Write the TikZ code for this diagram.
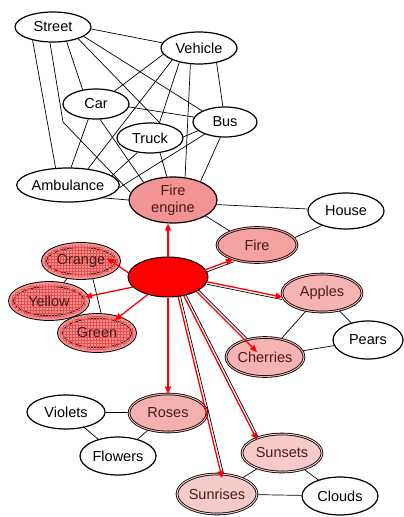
\documentclass[tikz,border=0pt]{standalone}
\usepackage{fontspec}
\setsansfont{Liberation Sans}
\usetikzlibrary{arrows.meta,shapes.geometric,backgrounds,patterns}
\definecolor{SpreadRed}{HTML}{FF0000}
\definecolor{PrimePink}{HTML}{F29090}
\definecolor{PrimeGrid}{HTML}{E85050}
\definecolor{EnginePink}{HTML}{F39494}
\definecolor{FirePink}{HTML}{F4A2A2}
\definecolor{FruitPink}{HTML}{F5B3B3}
\definecolor{RosePink}{HTML}{F5B0B0}
\definecolor{SkyPink}{HTML}{F7CACA}
\definecolor{ActiveText}{HTML}{4A1A1A}

\begin{document}
\begin{tikzpicture}[
  x=1pt, y=-1pt,
  font=\sffamily\fontsize{14.5}{17}\selectfont,
  dims/.style 2 args={minimum width=#1pt, minimum height=#2pt},
  idea/.style={
    ellipse,
    draw,
    line width=1.2pt,
    fill=white,
    inner sep=0pt
  },
  lit/.style={idea, fill=#1, text=ActiveText},
  primed/.style={
    lit=PrimePink,
    line width=0.9pt,
    double=PrimePink,
    double distance=4pt,
    postaction={pattern=grid, pattern color=PrimeGrid}
  },
  echoed/.style={lit=#1, line width=0.8pt, double=#1, double distance=1pt},
  link/.style={line width=0.7pt, draw=black},
  spread/.style={-{Triangle[length=7pt,width=6pt]}, line width=1.3pt, draw=SpreadRed}
]
  \useasboundingbox (0,0) rectangle (404,517);

  \node[idea, dims={76}{30}] (street) at (53,27) {Street};
  \node[idea, dims={76}{32}] (vehicle) at (199,48) {Vehicle};
  \node[idea, dims={66}{30}] (car) at (96,104) {Car};
  \node[idea, dims={64}{30}] (bus) at (225,122) {Bus};
  \node[idea, dims={66}{30}] (truck) at (150,138) {Truck};
  \node[idea, dims={92}{34}] (ambulance) at (68,185) {Ambulance};
  \node[lit=EnginePink, dims={88}{46}, align=center] (fireengine) at (173,200) {Fire\\engine};
  \node[idea, dims={76}{36}] (house) at (346,211) {House};
  \node[echoed=FirePink, dims={80}{35}] (fire) at (257,245) {Fire};
  \coordinate (bend) at (63,122);

  \node[idea, fill=SpreadRed, line width=1pt, dims={80}{40}] (core) at (168,277) {};

  \node[primed, dims={74}{32}] (orange) at (81,261) {Orange};
  \node[primed, dims={76}{34}] (yellow) at (49,301) {Yellow};
  \node[primed, dims={74}{34}] (green) at (97,333) {Green};

  \node[echoed=FruitPink, dims={80}{38}] (apples) at (322,293) {Apples};
  \node[idea, dims={70}{38}] (pears) at (368,340) {Pears};
  \node[echoed=FruitPink, dims={78}{39}] (cherries) at (265,357) {Cherries};

  \node[idea, dims={78}{34}] (violets) at (66,412) {Violets};
  \node[echoed=RosePink, dims={78}{38}] (roses) at (168,413) {Roses};
  \node[idea, dims={76}{38}] (flowers) at (118,456) {Flowers};

  \node[echoed=SkyPink, dims={80}{38}] (sunsets) at (282,453) {Sunsets};
  \node[echoed=SkyPink, dims={80}{40}] (sunrises) at (217,494) {Sunrises};
  \node[idea, dims={76}{38}] (clouds) at (340,496) {Clouds};

  \begin{scope}[on background layer]
    \draw[link] (street.-3) -- (vehicle.172);
    \draw[link] (street.213) -- (ambulance.126);
    \draw[link] (street.259) -- (bend) -- (fireengine.170);
    \draw[link] (street.313) -- (car.133);
    \draw[link] (street.335) -- (truck.56);
    \draw[link] (street.343) -- (bus.154);
    \draw[link] (vehicle.190) -- (car.35);
    \draw[link] (vehicle.204) -- (ambulance.39);
    \draw[link] (vehicle.216) -- (truck.58);
    \draw[link] (vehicle.242) -- (fireengine.62);
    \draw[link] (vehicle.320) -- (bus.98);
    \draw[link] (car.-5) -- (bus.171);
    \draw[link] (car.243) -- (ambulance.80);
    \draw[link] (car.285) -- (fireengine.149);
    \draw[link] (truck.2) -- (bus.198);
    \draw[link] (truck.229) -- (ambulance.12);
    \draw[link] (truck.304) -- (fireengine.105);
    \draw[link] (bus.211) -- (ambulance.-3);
    \draw[link] (bus.253) -- (fireengine.34);
    \draw[link] (ambulance.-20) -- (fireengine.180);
    \draw[link] (fireengine.-6) -- (house.177);
    \draw[link] (fireengine.-26) -- (fire.153);
    \draw[link] (house.211) -- (fire.11);

    \draw[link] (orange) -- (yellow);
    \draw[link] (orange.306) -- (green.75);
    \draw[link] (yellow) -- (green);

    \draw[link] (apples) -- (pears);
    \draw[link] (apples) -- (cherries);
    \draw[link] (cherries) -- (pears);

    \draw[link] (violets) -- (roses);
    \draw[link] (violets) -- (flowers);
    \draw[link] (roses) -- (flowers);

    \draw[link] (sunsets) -- (sunrises);
    \draw[link] (sunsets) -- (clouds);
    \draw[link] (sunrises) -- (clouds);

    \draw[link] ([xshift=0.9pt,yshift=-2.3pt]core.11) -- ([xshift=0.9pt,yshift=-2.3pt]fire.211);
    \draw[link] ([xshift=-0.5pt,yshift=-2.4pt]core.-7) -- ([xshift=-0.5pt,yshift=-2.4pt]apples.186);
    \draw[link] ([xshift=1.8pt,yshift=1.8pt]core.333) -- ([xshift=1.8pt,yshift=1.8pt,shift={(-8,-5)}]cherries.center);
    \draw[link] ([xshift=2.2pt,yshift=1.1pt]core.-50) -- ([xshift=2.2pt,yshift=1.1pt,shift={(-25,-13)}]sunsets.center);
    \draw[link] ([xshift=2.4pt,yshift=0.6pt]core.-63) -- ([xshift=2.4pt,yshift=0.6pt,shift={(5,-16)}]sunrises.center);
  \end{scope}

  \draw[spread] (core.north) -- (core.north |- fireengine.south);
  \draw[spread] (core.11) -- (fire.211);
  \draw[spread] (core.174) -- ([shift={(26,-3)}]orange.center);
  \draw[spread] (core.196) -- ([shift={(36,-4)}]yellow.center);
  \draw[spread] (core.221) -- ([shift={(18,-13)}]green.center);
  \draw[spread] (core.-7) -- (apples.186);
  \draw[spread] (core.333) -- ([shift={(-8,-5)}]cherries.center);
  \draw[spread] (core.south) -- (core.south |- roses.north);
  \draw[spread] (core.-50) -- ([shift={(-25,-13)}]sunsets.center);
  \draw[spread] (core.-63) -- ([shift={(5,-16)}]sunrises.center);
\end{tikzpicture}
\end{document}
